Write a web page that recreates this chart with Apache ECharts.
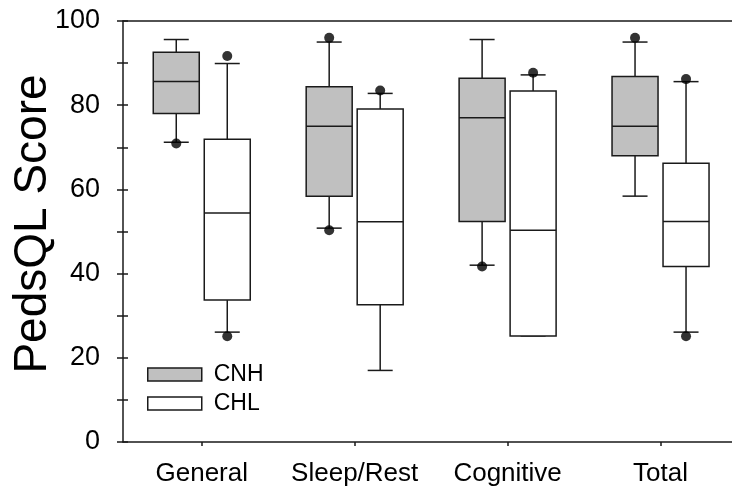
<!DOCTYPE html>
<html>
<head>
<meta charset="utf-8">
<script src="https://cdn.jsdelivr.net/npm/echarts@6/dist/echarts.min.js"></script>
<style>
  html, body { margin: 0; padding: 0; background: #fff; }
  #chart { width: 732px; height: 492px; }
</style>
</head>
<body>
<div id="chart"></div>
<script>
const categories = ['General', 'Sleep/Rest', 'Cognitive', 'Total']
const yTickLabels = [0, 20, 40, 60, 80, 100]

// CNH: lower whisker, Q1, median, Q3, upper whisker
const cnhLow = [71.2, 50.8, 42.0, 58.4]
const cnhQ1 = [78.0, 58.4, 52.4, 68.0]
const cnhMedian = [85.6, 75.0, 77.0, 75.0]
const cnhQ3 = [92.6, 84.4, 86.4, 86.8]
const cnhHigh = [95.6, 95.0, 95.6, 95.0]
// [category index, value]
const cnhOutliers = [[0, 70.9], [1, 96.0], [1, 50.3], [2, 41.7], [3, 96.0]]

// CHL
const chlLow = [26.1, 17.0, 25.2, 26.1]
const chlQ1 = [33.7, 32.6, 25.2, 41.7]
const chlMedian = [54.4, 52.3, 50.3, 52.4]
const chlQ3 = [71.9, 79.1, 83.4, 66.2]
const chlHigh = [89.9, 82.8, 87.2, 85.6]
const chlOutliers = [[0, 91.7], [0, 25.1], [1, 83.5], [2, 87.7], [3, 86.2], [3, 25.1]]

const FONT = 'Liberation Sans, Arial, sans-serif'
const LINE = '#1a1a1a'
const GRAY = '#c0c0c0'
const BOX_W = 46
const CAP_W = 25
const OFFSET = 25.5
const catPos = categories.map((c, i) => i + 1)

function boxData (low, q1, med, q3, high) {
  return categories.map((c, i) => [i + 1, low[i], q1[i], med[i], q3[i], high[i]])
}

function boxRenderer (offset, fill) {
  return function (params, api) {
    const x = api.value(0)
    const low = api.coord([x, api.value(1)])
    const q1 = api.coord([x, api.value(2)])
    const med = api.coord([x, api.value(3)])
    const q3 = api.coord([x, api.value(4)])
    const high = api.coord([x, api.value(5)])
    const cx = low[0] + offset
    const lineStyle = { stroke: LINE, lineWidth: 1.5 }
    return {
      type: 'group',
      children: [
        { type: 'line', shape: { x1: cx, y1: q3[1], x2: cx, y2: high[1] }, style: lineStyle },
        { type: 'line', shape: { x1: cx - CAP_W / 2, y1: high[1], x2: cx + CAP_W / 2, y2: high[1] }, style: lineStyle },
        { type: 'line', shape: { x1: cx, y1: q1[1], x2: cx, y2: low[1] }, style: lineStyle },
        { type: 'line', shape: { x1: cx - CAP_W / 2, y1: low[1], x2: cx + CAP_W / 2, y2: low[1] }, style: lineStyle },
        { type: 'rect', shape: { x: cx - BOX_W / 2, y: q3[1], width: BOX_W, height: q1[1] - q3[1] }, style: { fill: fill, stroke: LINE, lineWidth: 1.5 } },
        { type: 'line', shape: { x1: cx - BOX_W / 2, y1: med[1], x2: cx + BOX_W / 2, y2: med[1] }, style: lineStyle }
      ]
    }
  }
}

const axisLineStyle = { color: LINE, width: 1.5 }

const chart = echarts.init(document.getElementById('chart'))
chart.setOption({
  backgroundColor: '#fff',
  animation: false,
  grid: { left: 123, top: 21, width: 614, height: 421, outerBoundsMode: 'none', containLabel: false },
  legend: {
    orient: 'vertical',
    left: 147,
    top: 363,
    padding: 0,
    itemWidth: 54,
    itemHeight: 13,
    itemGap: 6,
    selectedMode: false,
    textStyle: { fontSize: 23, color: '#000', fontFamily: FONT, padding: [0, 0, 0, 7] },
    data: [
      { name: 'CNH', icon: 'rect', itemStyle: { color: GRAY, borderColor: LINE, borderWidth: 1.5 } },
      { name: 'CHL', icon: 'rect', itemStyle: { color: '#fff', borderColor: LINE, borderWidth: 1.5 } }
    ]
  },
  xAxis: [{
    type: 'value',
    min: 0.485,
    max: 4.5,
    axisLine: { show: true, onZero: false, lineStyle: axisLineStyle },
    axisTick: { show: true, customValues: catPos, length: 4, lineStyle: axisLineStyle },
    axisLabel: {
      customValues: catPos,
      formatter: v => categories[Math.round(v) - 1],
      margin: 19,
      fontSize: 26,
      color: '#000',
      fontFamily: FONT
    },
    splitLine: { show: false }
  }, {
    type: 'value',
    position: 'top',
    min: 0.485,
    max: 4.5,
    axisLine: { show: true, onZero: false, lineStyle: axisLineStyle },
    axisTick: { show: false },
    axisLabel: { show: false },
    splitLine: { show: false }
  }],
  yAxis: [{
    type: 'value',
    min: 0,
    max: 100,
    interval: 10,
    axisLine: { show: true, onZero: false, lineStyle: axisLineStyle },
    axisTick: { show: true, length: 6, lineStyle: axisLineStyle },
    axisLabel: {
      formatter: v => yTickLabels.includes(v) ? String(v) : '',
      margin: 23,
      fontSize: 27,
      color: '#000',
      fontFamily: FONT
    },
    splitLine: { show: false },
    name: 'PedsQL Score',
    nameLocation: 'middle',
    nameGap: 67,
    nameRotate: 90,
    nameMoveOverlap: false,
    nameTextStyle: { fontSize: 46, color: '#000', fontFamily: FONT, padding: [0, 0, 0, 15] }
  }, {
    type: 'value',
    position: 'left',
    min: 0,
    max: 100,
    interval: 10,
    axisLine: { show: false, onZero: false },
    axisTick: { show: true, inside: true, length: 5, lineStyle: axisLineStyle },
    axisLabel: { show: false },
    splitLine: { show: false }
  }],
  series: [
    {
      name: 'CNH',
      type: 'custom',
      renderItem: boxRenderer(-OFFSET, GRAY),
      itemStyle: { color: GRAY, borderColor: LINE },
      encode: { x: 0, y: [1, 2, 3, 4, 5] },
      data: boxData(cnhLow, cnhQ1, cnhMedian, cnhQ3, cnhHigh)
    },
    {
      name: 'CHL',
      type: 'custom',
      renderItem: boxRenderer(OFFSET, '#fff'),
      itemStyle: { color: '#fff', borderColor: LINE },
      encode: { x: 0, y: [1, 2, 3, 4, 5] },
      data: boxData(chlLow, chlQ1, chlMedian, chlQ3, chlHigh)
    },
    {
      name: 'CNH outliers',
      type: 'scatter',
      symbolSize: 10,
      symbolOffset: [-OFFSET, 0],
      itemStyle: { color: '#000' },
      data: cnhOutliers.map(d => [d[0] + 1, d[1]])
    },
    {
      name: 'CHL outliers',
      type: 'scatter',
      symbolSize: 10,
      symbolOffset: [OFFSET, 0],
      itemStyle: { color: '#000' },
      data: chlOutliers.map(d => [d[0] + 1, d[1]])
    }
  ]
})
</script>
</body>
</html>
